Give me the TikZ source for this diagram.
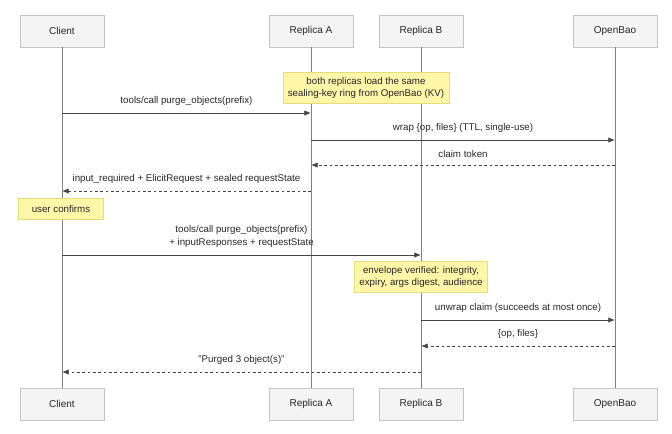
\documentclass[tikz,border=0pt]{standalone}
\usepackage{fontspec}
\setmainfont{Liberation Sans}
\usetikzlibrary{arrows.meta}
\definecolor{boxfill}{HTML}{F4F4F4}
\definecolor{boxline}{HTML}{C4C4C4}
\definecolor{notefill}{HTML}{FFF6A8}
\definecolor{noteline}{HTML}{E8DC7A}
\definecolor{msgline}{HTML}{444444}
\tikzset{
  Actor/.style={draw=boxline,fill=boxfill,minimum width=63pt,minimum height=24pt,
    font=\fontsize{7.5}{9}\selectfont,text=black!85},
  Note/.style={draw=noteline,fill=notefill,align=center,inner sep=3.5pt,
    font=\fontsize{7.3}{9.5}\selectfont,text=black!85},
  Life/.style={draw=black!50,line width=0.6pt},
  Msg/.style={draw=msgline,line width=0.6pt,-{Latex[length=5pt,width=4pt]}},
  Reply/.style={Msg,dashed,dash pattern=on 2pt off 2pt},
  Lbl/.style={font=\fontsize{7.3}{9.5}\selectfont,text=black!85,align=center}
}
\begin{document}
\begin{tikzpicture}[x=0.75pt,y=-0.75pt]
  \useasboundingbox (0,0) rectangle (672,433);

  % participants
  \foreach \name/\xx/\txt in {Client/62/Client,RepA/311/Replica A,RepB/421/Replica B,Bao/615/OpenBao}{
    \node[Actor] (\name Top) at (\xx,31) {\txt};
    \node[Actor] (\name Bot) at (\xx,404) {\txt};
    \draw[Life] (\name Top) -- (\name Bot);
  }

  \node[Note] (KeyNote) at (366,88) {both replicas load the same\\sealing-key ring from OpenBao (KV)};

  % first call
  \coordinate (CallAFrom) at (ClientTop |- 0,113);
  \coordinate (CallATo) at (RepATop |- 0,113);
  \draw[Msg] (CallAFrom) -- node[Lbl,above=2pt] {tools/call purge\_objects(prefix)} (CallATo);

  \coordinate (WrapFrom) at (RepATop |- 0,140);
  \coordinate (WrapTo) at (BaoTop |- 0,140);
  \draw[Msg] (WrapFrom) -- node[Lbl,above=2pt] {wrap \{op, files\} (TTL, single-use)} (WrapTo);

  \coordinate (TokFrom) at (BaoTop |- 0,165);
  \coordinate (TokTo) at (RepATop |- 0,165);
  \draw[Reply] (TokFrom) -- node[Lbl,above=2pt] {claim token} (TokTo);

  \coordinate (ElicitFrom) at (RepATop |- 0,191);
  \coordinate (ElicitTo) at (ClientTop |- 0,191);
  \draw[Reply] (ElicitFrom) -- node[Lbl,above=2pt] {input\_required + ElicitRequest + sealed requestState} (ElicitTo);

  \node[Note,minimum width=64pt,minimum height=16pt] (UserNote) at (61,209) {user confirms};

  % second call
  \coordinate (CallBFrom) at (ClientTop |- 0,255);
  \coordinate (CallBTo) at (RepBTop |- 0,255);
  \draw[Msg] (CallBFrom) -- node[Lbl,above=2pt] {tools/call purge\_objects(prefix)\\+ inputResponses + requestState} (CallBTo);

  \node[Note] (VerifyNote) at (421,277) {envelope verified: integrity,\\expiry, args digest, audience};

  \coordinate (UnwrapFrom) at (RepBTop |- 0,320);
  \coordinate (UnwrapTo) at (BaoTop |- 0,320);
  \draw[Msg] (UnwrapFrom) -- node[Lbl,above=2pt] {unwrap claim (succeeds at most once)} (UnwrapTo);

  \coordinate (OpsFrom) at (BaoTop |- 0,346);
  \coordinate (OpsTo) at (RepBTop |- 0,346);
  \draw[Reply] (OpsFrom) -- node[Lbl,above=2pt] {\{op, files\}} (OpsTo);

  \coordinate (DoneFrom) at (RepBTop |- 0,372);
  \coordinate (DoneTo) at (ClientTop |- 0,372);
  \draw[Reply] (DoneFrom) -- node[Lbl,above=2pt] {"Purged 3 object(s)"} (DoneTo);
\end{tikzpicture}
\end{document}
